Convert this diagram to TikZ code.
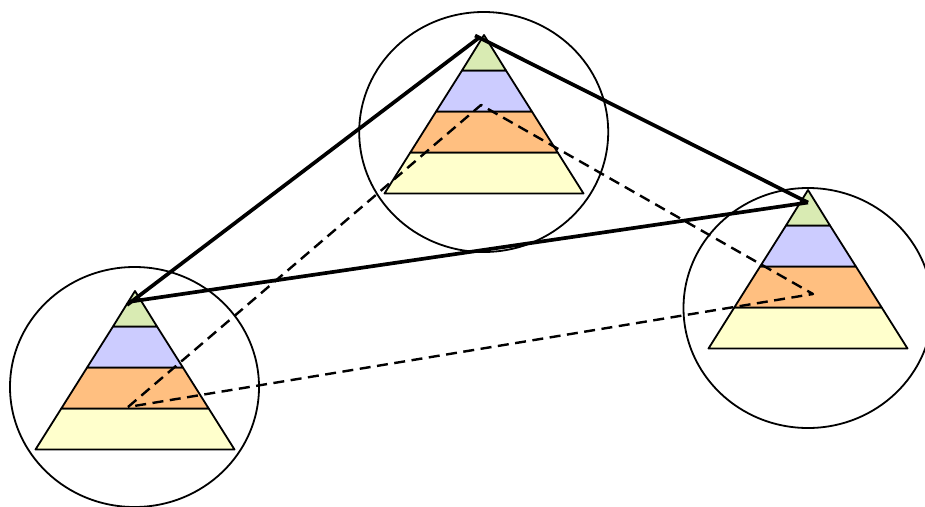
\documentclass[tikz,border=0pt]{standalone}
\usetikzlibrary{shapes.geometric}
\tikzset{
  ring/.style={draw=black,line width=1.8pt},
  band/.style={draw=black,line width=1.8pt,line join=round},
  thickedge/.style={draw=black,line width=3.7pt},
  dashedge/.style={draw=black,line width=2.4pt,line join=round,dash pattern=on 11pt off 6.5pt},
}
\definecolor{bandA}{HTML}{D9EBB3}
\definecolor{bandB}{HTML}{CCCCFF}
\definecolor{bandC}{HTML}{FFBF80}
\definecolor{bandD}{HTML}{FFFFCC}
% #1 apex x, #2 apex y : one pyramid, 158 high and 199 wide
\newcommand{\pyr}[2]{%
  \begin{scope}[shift={(#1,#2)}]
    \path[band,fill=bandD] (-73.7,117.5) -- (73.7,117.5) -- (99.5,158.5) -- (-99.5,158.5) -- cycle;
    \path[band,fill=bandC] (-47.9,76.5) -- (47.9,76.5) -- (73.7,117.5) -- (-73.7,117.5) -- cycle;
    \path[band,fill=bandB] (-22,35.5) -- (22,35.5) -- (47.9,76.5) -- (-47.9,76.5) -- cycle;
    \path[band,fill=bandA] (-22,35.5) -- (22,35.5) -- (0,0) -- cycle;
  \end{scope}}
\begin{document}
\begin{tikzpicture}[x=1pt,y=-1pt]
\useasboundingbox (0,0) rectangle (925,506);
\pyr{484}{35}
\pyr{135}{291}
\pyr{808}{190}
\node[ring,ellipse,minimum width=249pt,minimum height=240pt,inner sep=0pt] (c1) at (483.7,132) {};
\node[ring,ellipse,minimum width=249pt,minimum height=240pt,inner sep=0pt] (c2) at (134.5,387) {};
\node[ring,ellipse,minimum width=249pt,minimum height=240pt,inner sep=0pt] (c3) at (808,308) {};
\coordinate (a1) at (475,35.5);
\coordinate (a1b) at (480,37);
\coordinate (a2) at (127,305);
\coordinate (a2b) at (131,301.5);
\coordinate (a3) at (808,202.5);
\coordinate (b1) at (481,105);
\coordinate (b2) at (128,407);
\coordinate (b3) at (813,294);
\draw[thickedge] (a1b) -- (a2);
\draw[thickedge] (a1) -- (a3);
\draw[thickedge] (a2b) -- (a3);
\draw[dashedge] (b2) -- (b1) -- (b3) -- cycle;
\end{tikzpicture}
\end{document}
